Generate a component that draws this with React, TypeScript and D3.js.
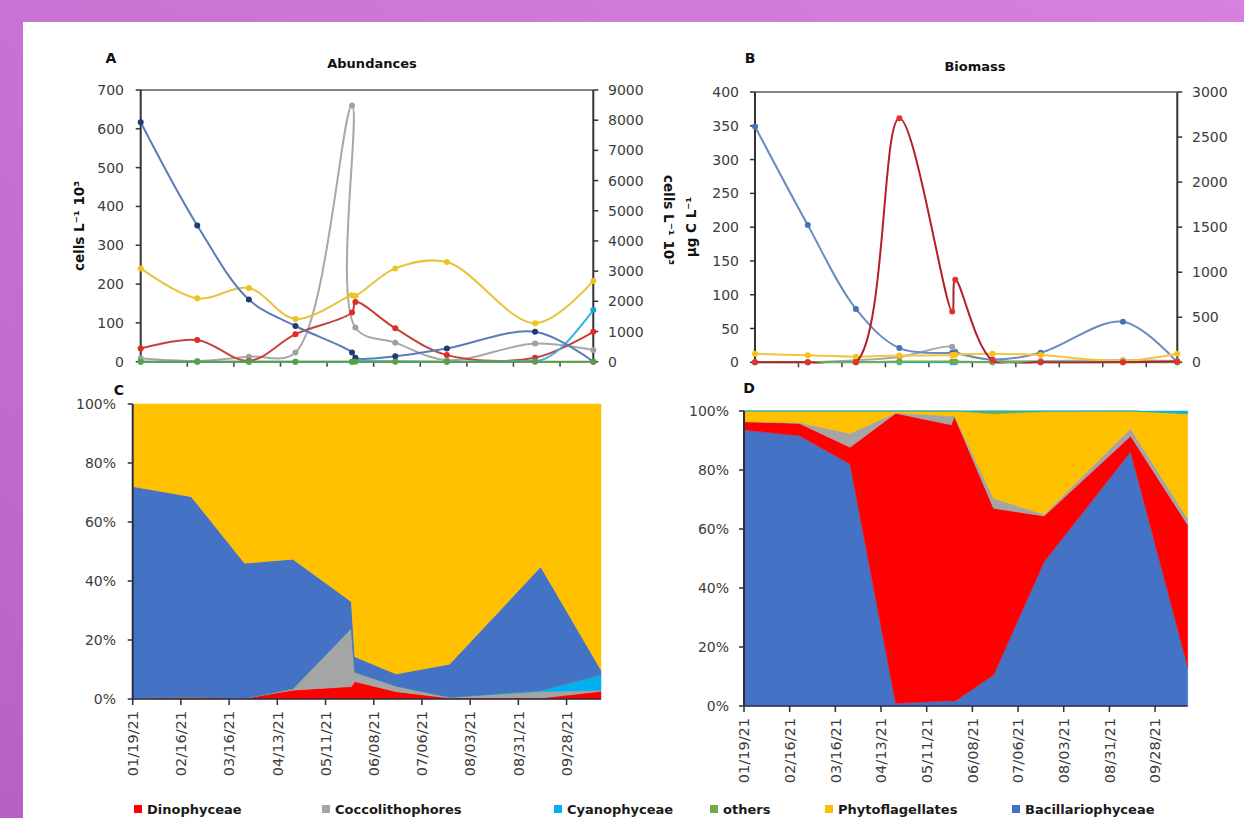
import React from "react";
import * as d3 from "d3";

// ---------- DATA ----------
const sampleDates = ["01/19/21", "02/22/21", "03/25/21", "04/22/21", "05/26/21", "05/28/21", "06/21/21", "07/22/21", "09/13/21", "10/18/21"];
const tickLabels = ["01/19/21", "02/16/21", "03/16/21", "04/13/21", "05/11/21", "06/08/21", "07/06/21", "08/03/21", "08/31/21", "09/28/21"];
const axisEnd = "10/18/21";

// A: abundances (cells L-1 10^3) — left axis, Phytoflagellates on right axis
const aBacill = [617, 351, 160, 92, 24, 10, 14, 34, 77, 0];
const aDino = [34, 56, 2, 71, 127, 154, 86, 17, 10, 77];
const aCocco = [9, 2, 13, 24, 660, 88, 49, 4, 47, 30];
const aCyano = [0, 0, 0, 0, 0, 2, 1, 0, 2, 133];
const aOthers = [0, 0, 0, 0, 0, 0, 0, 0, 0, 0];
const aPhytoRight = [3090, 2100, 2440, 1415, 2200, 2180, 3090, 3300, 1275, 2675];
const aLeftTicks = [0, 100, 200, 300, 400, 500, 600, 700];
const aRightTicks = [0, 1000, 2000, 3000, 4000, 5000, 6000, 7000, 8000, 9000];

// B: biomass (µg C L-1) — left axis, Phytoflagellates on right axis
const bBacill = [349, 203, 79, 21, 14, 14, 4, 14, 60, 0];
const bDino = [0, 0, 0, 361, 75, 122, 3, 0, 0, 1];
const bCocco = [0, 0, 3, 8, 23, 16, 3, 2, 3, 2];
const bCyano = [0, 0, 0, 0, 0, 0, 0, 0, 0, 0];
const bOthers = [0, 0, 0, 1, 1, 1, 0, 0, 0, 0];
const bPhytoRight = [95, 78, 62, 75, 80, 85, 95, 80, 15, 95];
const bLeftTicks = [0, 50, 100, 150, 200, 250, 300, 350, 400];
const bRightTicks = [0, 500, 1000, 1500, 2000, 2500, 3000];

// C: relative abundance (%)
const cDino = [0.3, 0.7, 0.2, 3.0, 4.2, 5.9, 2.5, 0.3, 0.3, 2.6];
const cCocco = [0, 0, 0, 0.5, 19.8, 3.2, 1.9, 0.3, 2.2, 0.3];
const cCyano = [0, 0, 0, 0, 0, 0, 0, 0, 0.3, 5.3];
const cOthers = [0, 0, 0, 0, 0, 0, 0, 0, 0, 0];
const cBacill = [71.7, 67.9, 45.8, 43.9, 9.0, 5.2, 4.1, 11.2, 42.0, 1.6];
const cPhyto = [28.0, 31.4, 54.0, 52.6, 67.0, 85.7, 91.5, 88.2, 55.2, 90.2];

// D: relative biomass (%)
const dBacill = [93.6, 91.6, 82.0, 0.9, 1.8, 1.5, 10.5, 48.9, 86.2, 13.3];
const dDino = [2.8, 4.2, 5.7, 98.3, 93.5, 96.6, 56.5, 15.5, 5.3, 48.1];
const dCocco = [0, 0.3, 4.7, 0.2, 3.0, 0.4, 3.4, 0.6, 2.6, 2.2];
const dPhyto = [3.6, 3.9, 7.6, 0.6, 1.7, 1.5, 28.6, 34.8, 5.9, 35.4];
const dOthers = [0, 0, 0, 0, 0, 0, 1.0, 0.2, 0, 0.2];
const dCyano = [0, 0, 0, 0, 0, 0, 0, 0, 0, 0.8];
const pctTicks = [0, 20, 40, 60, 80, 100];

const legendNames = ["Dinophyceae", "Coccolithophores", "Cyanophyceae", "others", "Phytoflagellates", "Bacillariophyceae"];

// ---------- STYLE / LAYOUT ----------
const fill: Record<string, string> = {
  Dinophyceae: "#ff0000",
  Coccolithophores: "#a5a5a5",
  Cyanophyceae: "#00b0f0",
  others: "#70ad47",
  Phytoflagellates: "#ffc000",
  Bacillariophyceae: "#4472c4",
};
const FONT = "DejaVu Sans";
const TICK_COLOR = "#3c3c3c";
const TICK_SIZE = 14;

const parse = d3.timeParse("%m/%d/%y");
const dates = sampleDates.map((s) => parse(s) as Date);
const tickDates = tickLabels.map((s) => parse(s) as Date);
const xDomain: [Date, Date] = [dates[0], parse(axisEnd) as Date];

type Box = { x0: number; x1: number; y0: number; y1: number };
type LineSeries = { name: string; values: number[]; right?: boolean; line: string; marker: string; monotone?: boolean };

function LinePanel(props: {
  id: string;
  box: Box; leftMax: number; rightMax: number; leftTicks: number[]; rightTicks: number[];
  series: LineSeries[]; title: string; titleX: number; titleY: number; letter: string; letterX: number; letterY: number;
  leftLabelX: number; rightLabelX: number;
}) {
  const { box, series } = props;
  const x = d3.scaleTime().domain(xDomain).range([box.x0, box.x1]);
  const yL = d3.scaleLinear().domain([0, props.leftMax]).range([box.y0, box.y1]);
  const yR = d3.scaleLinear().domain([0, props.rightMax]).range([box.y0, box.y1]);
  const clipId = "clip-" + props.id;
  return (
    <g>
      <defs>
        <clipPath id={clipId}>
          <rect x={box.x0 - 4} y={box.y1 - 6} width={box.x1 - box.x0 + 8} height={box.y0 - box.y1 + 7.2} />
        </clipPath>
      </defs>
      <text x={props.letterX} y={props.letterY} fontFamily={FONT} fontWeight="bold" fontSize={14} fill="#111" textAnchor="middle">{props.letter}</text>
      <text x={props.titleX} y={props.titleY} fontFamily={FONT} fontWeight="bold" fontSize={13} fill="#111" textAnchor="middle">{props.title}</text>
      {/* top border */}
      <line x1={box.x0} x2={box.x1} y1={box.y1} y2={box.y1} stroke="#5a5a5a" strokeWidth={1.3} />
      {/* x axis */}
      <line x1={box.x0} x2={box.x1} y1={box.y0} y2={box.y0} stroke="#404040" strokeWidth={1.5} />
      {tickDates.slice(1).map((d, i) => (
        <line key={i} x1={x(d)} x2={x(d)} y1={box.y0} y2={box.y0 + 5} stroke="#404040" strokeWidth={1.5} />
      ))}
      {/* left axis */}
      <line x1={box.x0} x2={box.x0} y1={box.y0} y2={box.y1} stroke="#333" strokeWidth={2} />
      {props.leftTicks.map((t) => (
        <g key={t}>
          <line x1={box.x0 - 5} x2={box.x0} y1={yL(t)} y2={yL(t)} stroke="#333" strokeWidth={1.5} />
          <text x={props.leftLabelX} y={yL(t)} dy="0.36em" textAnchor="end" fontFamily={FONT} fontSize={TICK_SIZE} fill={TICK_COLOR}>{t}</text>
        </g>
      ))}
      {/* right axis */}
      <line x1={box.x1} x2={box.x1} y1={box.y0} y2={box.y1} stroke="#333" strokeWidth={2} />
      {props.rightTicks.map((t) => (
        <g key={t}>
          <line x1={box.x1} x2={box.x1 + 5} y1={yR(t)} y2={yR(t)} stroke="#333" strokeWidth={1.5} />
          <text x={props.rightLabelX} y={yR(t)} dy="0.36em" textAnchor="start" fontFamily={FONT} fontSize={TICK_SIZE} fill={TICK_COLOR}>{t}</text>
        </g>
      ))}
      {series.map((s) => {
        const y = s.right ? yR : yL;
        const curve = s.monotone ? d3.curveMonotoneX : d3.curveCatmullRom.alpha(0.5);
        const gen = d3.line<number>().x((_, i) => x(dates[i])).y((v) => y(v)).curve(curve);
        return (
          <g key={s.name}>
            <path d={gen(s.values) || ""} fill="none" stroke={s.line} strokeWidth={2} clipPath={`url(#${clipId})`} />
            {s.values.map((v, i) => (
              <circle key={i} cx={x(dates[i])} cy={y(v)} r={3} fill={s.marker} />
            ))}
          </g>
        );
      })}
    </g>
  );
}

function AreaPanel(props: {
  box: Box; order: string[]; data: Record<string, number[]>; letter: string; letterX: number; letterY: number; labelX: number;
}) {
  const { box } = props;
  const x = d3.scaleTime().domain(xDomain).range([box.x0, box.x1]);
  const y = d3.scaleLinear().domain([0, 100]).range([box.y0, box.y1]);
  const rows = dates.map((d, i) => {
    const r: any = { date: d };
    props.order.forEach((k) => (r[k] = props.data[k][i]));
    return r;
  });
  const stacked = d3.stack<any>().keys(props.order).offset(d3.stackOffsetExpand)(rows);
  const area = d3.area<any>().x((p) => x(p.data.date)).y0((p) => y(p[0] * 100)).y1((p) => y(p[1] * 100));
  return (
    <g>
      {stacked.map((layer) => (
        <path key={layer.key} d={area(layer) || ""} fill={fill[layer.key]} stroke={fill[layer.key]} strokeWidth={0.5} />
      ))}
      <text x={props.letterX} y={props.letterY} fontFamily={FONT} fontWeight="bold" fontSize={14} fill="#111" textAnchor="middle">{props.letter}</text>
      <line x1={box.x0} x2={box.x1} y1={box.y0} y2={box.y0} stroke="#2b2f3f" strokeWidth={1.5} />
      <line x1={box.x0} x2={box.x0} y1={box.y0} y2={box.y1} stroke="#2b2f3f" strokeWidth={2} />
      {pctTicks.map((t) => (
        <g key={t}>
          <line x1={box.x0 - 5} x2={box.x0} y1={y(t)} y2={y(t)} stroke="#2b2f3f" strokeWidth={1.5} />
          <text x={props.labelX} y={y(t)} dy="0.36em" textAnchor="end" fontFamily={FONT} fontSize={TICK_SIZE} fill={TICK_COLOR}>{t + "%"}</text>
        </g>
      ))}
      {tickDates.map((d, i) => (
        <g key={i}>
          <line x1={x(d)} x2={x(d)} y1={box.y0} y2={box.y0 + 6} stroke="#2b2f3f" strokeWidth={1.5} />
          <text transform={`translate(${x(d)},${box.y0 + 12}) rotate(-90)`} textAnchor="end" dy="0.36em" fontFamily={FONT} fontSize={14.5} fill={TICK_COLOR}>{tickLabels[i]}</text>
        </g>
      ))}
    </g>
  );
}

export default function App() {
  const boxA: Box = { x0: 140.7, x1: 593.3, y0: 361.7, y1: 90 };
  const boxB: Box = { x0: 755, x1: 1177.3, y0: 362.3, y1: 92 };
  const boxC: Box = { x0: 132.7, x1: 601, y0: 699, y1: 404 };
  const boxD: Box = { x0: 744, x1: 1187.7, y0: 706, y1: 411 };

  const aSeries: LineSeries[] = [
    { name: "Coccolithophores", values: aCocco, line: "#a8a8a8", marker: "#a0a0a0" },
    { name: "Phytoflagellates", values: aPhytoRight, right: true, line: "#e6c43c", marker: "#f0c21c" },
    { name: "Dinophyceae", values: aDino, line: "#c8423c", marker: "#e32b24" },
    { name: "Cyanophyceae", values: aCyano, line: "#38b2e6", marker: "#1aa3e0", monotone: true },
    { name: "Bacillariophyceae", values: aBacill, line: "#5b7cb8", marker: "#1f3b73" },
    { name: "others", values: aOthers, line: "#5aa040", marker: "#5aa040" },
  ];
  const bSeries: LineSeries[] = [
    { name: "Coccolithophores", values: bCocco, line: "#a8a8a8", marker: "#a0a0a0" },
    { name: "Bacillariophyceae", values: bBacill, line: "#6a8ac2", marker: "#4a70b5" },
    { name: "Phytoflagellates", values: bPhytoRight, right: true, line: "#f2c640", marker: "#f7c11a" },
    { name: "Cyanophyceae", values: bCyano, line: "#00b0f0", marker: "#00b0f0" },
    { name: "others", values: bOthers, line: "#70ad47", marker: "#70ad47" },
    { name: "Dinophyceae", values: bDino, line: "#b3202a", marker: "#e8302a" },
  ];

  const legendX = [134, 322, 554, 710, 825, 1012];

  return (
    <svg width={1244} height={818} style={{ position: "fixed", left: 0, top: 0, display: "block" }}>
      <defs>
        <linearGradient id="bg" x1="0" y1="1" x2="1" y2="0">
          <stop offset="0" stopColor="#b85fc6" />
          <stop offset="0.35" stopColor="#c46fd0" />
          <stop offset="1" stopColor="#d681dd" />
        </linearGradient>
      </defs>
      <rect x={0} y={0} width={1244} height={818} fill="url(#bg)" />
      <rect x={23} y={22} width={1221} height={796} fill="#ffffff" />

      <LinePanel id="A" box={boxA} leftMax={700} rightMax={9000} leftTicks={aLeftTicks} rightTicks={aRightTicks} series={aSeries}
        title="Abundances" titleX={372} titleY={68} letter="A" letterX={111} letterY={63} leftLabelX={124} rightLabelX={608} />
      <text transform="translate(84,226) rotate(-90)" textAnchor="middle" fontFamily={FONT} fontWeight="bold" fontSize={13.5} fill="#111">cells L⁻¹ 10³</text>
      <text transform="translate(664,220) rotate(90)" textAnchor="middle" fontFamily={FONT} fontWeight="bold" fontSize={13.5} fill="#111">cells L⁻¹ 10³</text>

      <LinePanel id="B" box={boxB} leftMax={400} rightMax={3000} leftTicks={bLeftTicks} rightTicks={bRightTicks} series={bSeries}
        title="Biomass" titleX={975} titleY={71} letter="B" letterX={750} letterY={63} leftLabelX={739} rightLabelX={1192} />
      <text transform="translate(696,227) rotate(-90)" textAnchor="middle" fontFamily={FONT} fontWeight="bold" fontSize={13.5} fill="#111">µg C L⁻¹</text>

      <AreaPanel box={boxC} order={["Dinophyceae", "Coccolithophores", "Cyanophyceae", "others", "Bacillariophyceae", "Phytoflagellates"]}
        data={{ Dinophyceae: cDino, Coccolithophores: cCocco, Cyanophyceae: cCyano, others: cOthers, Bacillariophyceae: cBacill, Phytoflagellates: cPhyto }}
        letter="C" letterX={119} letterY={395} labelX={116} />
      <AreaPanel box={boxD} order={["Bacillariophyceae", "Dinophyceae", "Coccolithophores", "Phytoflagellates", "others", "Cyanophyceae"]}
        data={{ Bacillariophyceae: dBacill, Dinophyceae: dDino, Coccolithophores: dCocco, Phytoflagellates: dPhyto, others: dOthers, Cyanophyceae: dCyano }}
        letter="D" letterX={749} letterY={393} labelX={729} />

      {legendNames.map((n, i) => (
        <g key={n}>
          <rect x={legendX[i]} y={805} width={8} height={8} fill={fill[n]} />
          <text x={legendX[i] + 13} y={814} fontFamily={FONT} fontWeight="bold" fontSize={13} fill="#1a1a1a">{n}</text>
        </g>
      ))}
    </svg>
  );
}
